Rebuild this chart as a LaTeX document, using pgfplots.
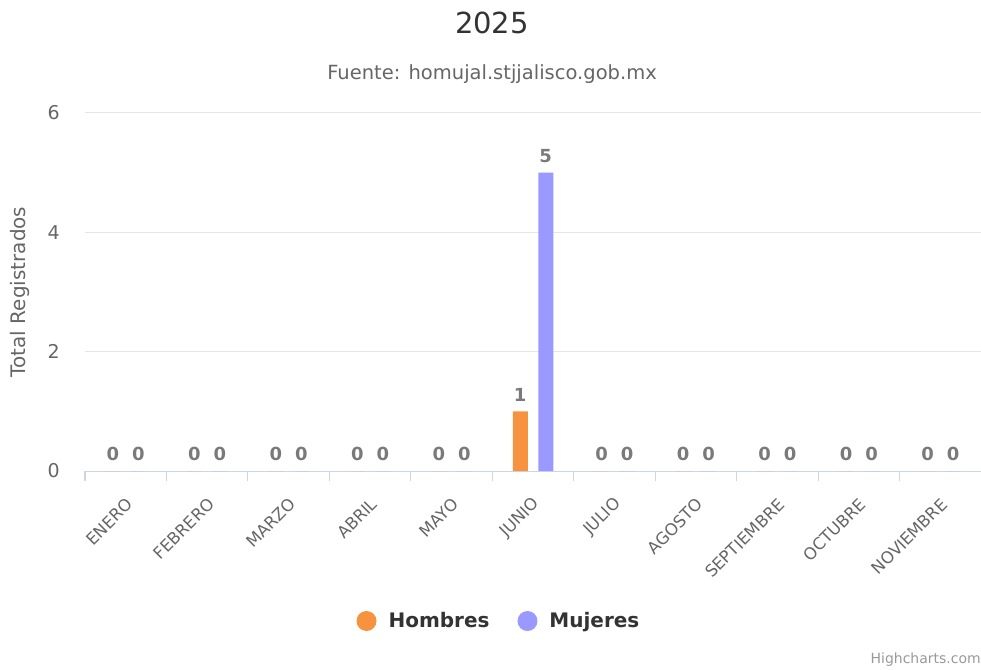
\documentclass[border=0pt]{standalone}
\usepackage{fontspec}
\setmainfont{DejaVu Sans}
\usepackage{pgfplots}
\pgfplotsset{compat=1.18}
\definecolor{hombres}{HTML}{F7923F}
\definecolor{mujeres}{HTML}{9999FF}
\definecolor{gridc}{HTML}{E6E6E6}
\definecolor{axisc}{HTML}{CCD6EB}
\definecolor{lbl}{HTML}{666666}
\definecolor{dlbl}{HTML}{7A7A7A}
\definecolor{dark}{HTML}{333333}
\begin{document}
\begin{tikzpicture}[x=1pt,y=1pt]
\useasboundingbox (0,0) rectangle (981,669);
\node[font=\fontsize{29}{33}\selectfont, color=dark] at (492,646) {2025};
\node[font=\fontsize{19.5}{22}\selectfont, color=lbl] at (492,595) {Fuente: homujal.stjjalisco.gob.mx};
\node[font=\fontsize{14}{16}\selectfont, color=gray!80, anchor=east, inner sep=0] at (981,9) {Highcharts.com};
\begin{axis}[
  at={(85pt,198pt)}, anchor=south west,
  scale only axis, width=896pt, height=358pt,
  xmin=-0.5, xmax=10.5, ymin=0, ymax=6,
  /pgf/number format/assume math mode=true,
  axis x line*=bottom, axis y line*=left,
  x axis line style={draw=axisc, line width=1pt, -},
  y axis line style={draw=none},
  ytick={0,2,4,6},
  ymajorgrids, grid style={draw=gridc, line width=1pt},
  ytick style={draw=none},
  yticklabel style={font=\fontsize{19}{21}\selectfont, color=lbl, anchor=east, inner sep=0, xshift=-25pt},
  xtick={0,...,10},
  xticklabels={ENERO,FEBRERO,MARZO,ABRIL,MAYO,JUNIO,JULIO,AGOSTO,SEPTIEMBRE,OCTUBRE,NOVIEMBRE},
  xtick style={draw=none},
  minor xtick={-0.5,0.5,...,10.5},
  minor x tick style={draw=axisc, line width=1pt},
  minor tick length=10pt,
  xtick align=outside,
  xticklabel style={yshift=-26pt, xshift=4pt, rotate=45, anchor=east, inner sep=0, font=\fontsize{16.5}{18}\selectfont, color=lbl},
  ylabel={Total Registrados},
  every axis y label/.style={at={(rel axis cs:0,0.5)}, xshift=-65pt, rotate=90, anchor=center, font=\fontsize{20}{22}\selectfont, color=lbl},
  ybar, bar width=15pt,
  nodes near coords,
  every node near coord/.append style={font=\bfseries\fontsize{18}{20}\selectfont, color=dlbl, anchor=south, inner sep=0, yshift=10pt},
  legend columns=2,
  legend style={at={(0.462,-0.419)}, anchor=center, draw=none, fill=none,
    font=\bfseries\fontsize{20}{24}\selectfont, text=dark,
    /tikz/every odd column/.append style={column sep=10pt},
    /tikz/every even column/.append style={column sep=26pt}},
  legend image code/.code={\fill[#1] (5pt,0pt) circle (10pt);},
]
\addplot[fill=hombres, draw=none, bar shift=-12.75pt] coordinates {
(0,0) (1,0) (2,0) (3,0) (4,0) (5,1) (6,0) (7,0) (8,0) (9,0) (10,0)
};
\addlegendentry{Hombres}
\addplot[fill=mujeres, draw=none, bar shift=12.75pt] coordinates {
(0,0) (1,0) (2,0) (3,0) (4,0) (5,5) (6,0) (7,0) (8,0) (9,0) (10,0)
};
\addlegendentry{Mujeres}
\end{axis}
\end{tikzpicture}
\end{document}
